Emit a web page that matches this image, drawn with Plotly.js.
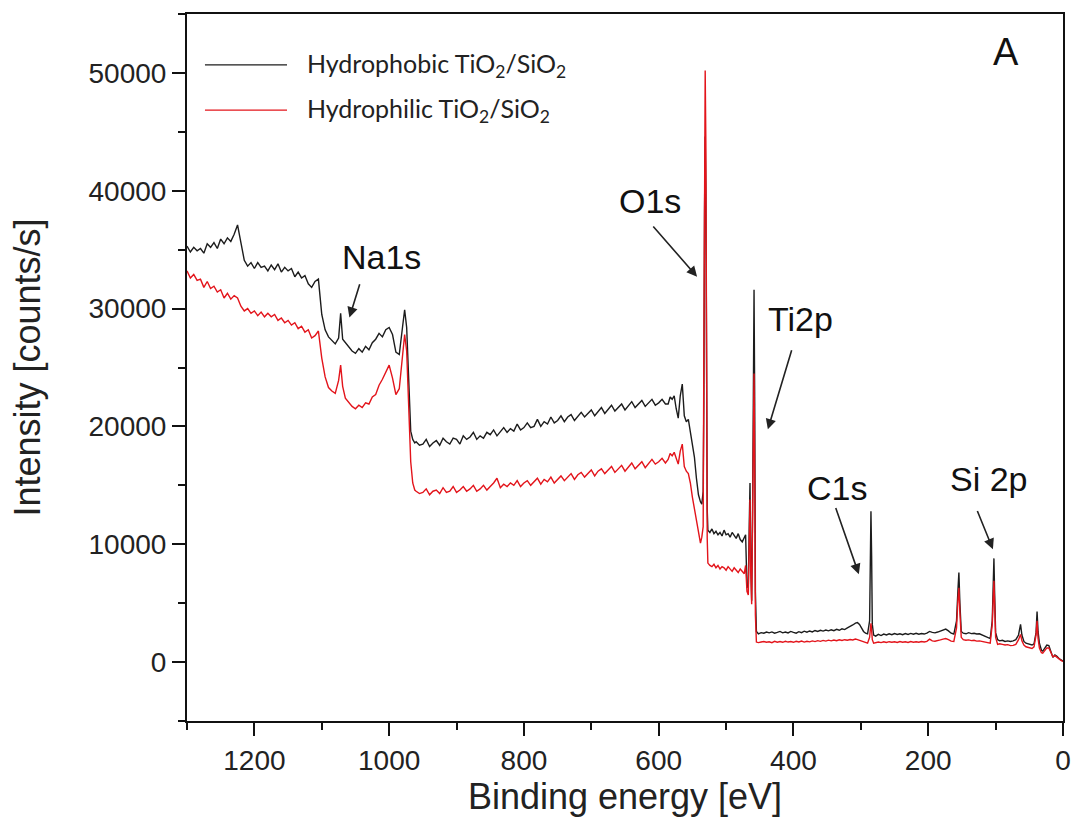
<!DOCTYPE html>
<html>
<head>
<meta charset="utf-8">
<script src="https://cdn.plot.ly/plotly-3.0.1.min.js"></script>
<style>html,body{margin:0;padding:0;background:#fff;}#chart{width:1075px;height:834px;}</style>
</head>
<body>
<div id="chart"></div>
<script>
// ---- Data (binding energy in eV, intensity in counts/s) ----
// Region A: 1300 -> 962 eV (Na1s region)
var energyA = [1300,1295,1290,1285,1280,1275,1270,1265,1260,1255,1250,1245,1240,1235,1230,1225,1220,1215,1210,1205,
  1200,1195,1190,1185,1180,1175,1170,1165,1160,1155,1150,1145,1140,1135,1130,1125,1120,1115,1110,1105,
  1100,1095,1090,1085,1080,1075,1072,1069,1065,1060,1055,1050,1045,1040,1035,1030,1025,1020,1015,1010,
  1005,1000,995,990,985,980,977,974,971,968,965,962];
var hydrophobicA = [35300,34800,35200,34900,35100,34700,35500,35200,35600,35100,35900,35500,36000,35700,36300,37100,35600,34100,33600,33900,
  33400,33900,33500,33600,33200,33700,33300,33800,33100,33500,33200,33400,32700,33100,32600,32800,32100,31800,32300,32500,
  29500,28200,27600,27300,27000,27500,29600,27400,27100,26800,26400,26200,26600,26300,26800,26500,27100,27400,27900,27600,
  28200,28400,27800,26300,26100,28500,29900,28400,23500,19600,18900,18600];
var hydrophilicA = [33200,32600,32900,32400,32500,31800,32300,31700,31900,31400,31600,30900,31300,30800,31100,30900,30200,29800,30000,29600,
  29800,29400,29700,29300,29600,29300,29500,29000,29200,28800,29000,28600,28800,28300,28500,28000,28200,27500,27700,28100,
  25800,24200,23300,23000,22800,23900,25200,23400,22400,22000,21700,21500,21800,21600,22000,21900,22500,22700,23500,24000,
  24600,25200,24100,22700,23200,26500,27800,26400,21000,17000,15200,14600];

// Region B: 960 -> 590 eV (background plateau)
var energyB = [960,955,950,945,940,935,930,925,920,915,910,905,900,895,890,885,880,875,870,865,
  860,855,850,845,840,835,830,825,820,815,810,805,800,795,790,785,780,775,770,765,
  760,755,750,745,740,735,730,725,720,715,710,705,700,695,690,685,680,675,670,665,
  660,655,650,645,640,635,630,625,620,615,610,605,600,595,590];
var hydrophobicB = [18700,18400,18500,18900,18300,18600,18800,18400,19000,18700,18500,19000,18900,18500,19200,18900,19100,19500,18900,19200,
  19000,19500,19300,19700,19200,19600,19900,19500,19800,19600,20200,19700,19900,20300,19900,20000,20600,20000,20400,20200,
  20800,20300,20500,20900,20400,20800,21000,20500,20900,21200,20800,21100,21400,20900,21300,21600,21100,21500,21800,21300,
  21600,21900,21400,21800,22100,21600,21900,22200,21700,22000,22300,21800,22000,22300,21900];
var hydrophilicB = [14500,14300,14400,14700,14200,14500,14600,14300,14800,14400,14500,14900,14400,14600,14900,14500,14700,15000,14500,14700,
  15000,14600,14900,15200,15600,14800,15100,14900,15200,15000,15400,14900,15200,15400,15000,15300,15600,15100,15500,15300,
  15700,15200,15500,15800,15400,15700,16000,15500,15900,16100,15700,16000,16300,15800,16200,16400,16000,16300,16600,16100,
  16400,16700,16200,16600,16900,16400,16700,17000,16500,16900,17200,16800,17000,17300,16900];

// Region C: 586 -> 455 eV (O1s and Ti2p)
var energyC = [586,583,580,577,574,571,568,565,562,559,556,553,550,547,544,541,538,536,534,533,
  532,531,530,529,528,527,524,521,518,515,512,509,506,503,500,497,494,491,488,485,
  482,479,476,473,471,469,467,465.5,464.5,463.5,462,460.5,459.5,458.5,457.5,456.5,455];
var hydrophobicC = [21900,22500,22300,22600,21500,20700,22600,23600,20900,20400,20600,19600,18600,17400,15600,14200,13600,13400,14500,22000,
  38000,44600,40000,24000,13000,11200,11000,11300,10900,11100,10800,11000,10700,11200,10800,10900,10600,11000,10700,10500,
  10900,10400,10200,10600,10800,6300,6500,12000,15200,9000,5200,14000,27000,31600,22000,6000,2600];
var hydrophilicC = [17200,17700,17500,17800,17300,16800,17900,18500,16600,16200,16000,15200,14000,13100,12000,11000,10100,10600,11500,26000,
  45000,50200,44000,24000,10500,8400,8200,8100,8300,8000,8200,7900,8100,8000,7800,8100,7900,7700,8000,7800,
  7600,7900,7700,7500,8200,6000,5700,11000,13800,8000,4900,13000,20500,24500,16000,4000,1700];

// Region D: 452 -> 0 eV (C1s, Si2s, Si2p, shallow levels)
var energyD = [452,448,444,440,436,432,428,424,420,416,412,408,404,400,396,392,388,384,380,376,
  372,368,364,360,356,352,348,344,340,336,332,328,324,320,316,312,308,305,302,299,
  296,293,290,287,286,285,284,283,281,278,274,270,266,262,258,254,250,246,242,238,
  234,230,226,222,218,214,210,206,202,198,194,190,186,182,178,174,170,166,162,158,
  156,154.5,153,151,148,144,140,136,132,128,124,120,116,112,108,105,103.5,102.5,101.5,100,
  97,94,90,86,82,78,74,70,66,63,61,58,55,52,49,46,43,40,38.5,37,
  35,32,30,27,24,21,18,15,12,9,6,3,0];
var hydrophobicD = [2400,2500,2450,2550,2480,2560,2450,2520,2600,2480,2550,2470,2600,2520,2450,2580,2500,2620,2540,2640,
  2560,2680,2600,2700,2630,2720,2650,2740,2660,2780,2700,2820,2760,2900,3000,3150,3300,3350,3200,2900,
  2600,2450,2400,3500,9000,12800,9000,3200,2300,2200,2350,2250,2380,2300,2400,2320,2420,2340,2400,2320,
  2420,2350,2430,2360,2440,2370,2430,2380,2460,2600,2520,2480,2550,2650,2750,2800,2650,2450,2380,3500,
  6000,7600,5000,2600,2450,2400,2500,2420,2450,2380,2400,2300,2250,2150,2000,3500,7000,8800,6000,2500,
  1900,1800,1850,1750,1800,1750,1800,1900,2300,3200,2300,1750,1600,1550,1500,1450,1550,2500,4300,2600,
  1600,1000,930,1200,1440,1400,900,400,600,500,300,150,80];
var hydrophilicD = [1650,1700,1750,1680,1720,1650,1760,1690,1740,1680,1770,1700,1740,1680,1760,1710,1780,1700,1770,1720,
  1800,1740,1820,1760,1840,1780,1860,1800,1870,1810,1890,1830,1900,1850,1920,1880,1960,1900,1850,1780,
  1700,1650,1600,2100,2900,3300,2700,1900,1600,1650,1700,1650,1720,1660,1730,1680,1720,1660,1740,1680,
  1720,1670,1740,1690,1730,1680,1750,1700,1760,1950,1800,1770,1800,1880,1950,2000,1900,1780,1750,2900,
  5200,6300,4200,2100,1900,1850,1880,1820,1850,1780,1800,1750,1700,1650,1600,3200,5800,6900,5000,2100,
  1500,1550,1500,1450,1480,1400,1420,1500,1900,2350,1800,1450,1300,1250,1200,1150,1300,2300,3500,2000,
  1200,800,750,1000,1200,1200,750,450,550,400,250,150,50];

var seriesNames = ['Hydrophobic TiO<sub>2</sub>/SiO<sub>2</sub>', 'Hydrophilic TiO<sub>2</sub>/SiO<sub>2</sub>'];
var seriesColors = ['#1c1c1c', '#e3141b'];

var xTicks = [1200, 1000, 800, 600, 400, 200, 0];
var yTicks = [0, 10000, 20000, 30000, 40000, 50000];
var xTitle = 'Binding energy [eV]';
var yTitle = 'Intensity [counts/s]';

// Peak labels with their arrows (text centre, arrow tail, arrow tip)
var peakLabels = ['Na1s', 'O1s', 'Ti2p', 'C1s', 'Si 2p'];
var labelX = [1012, 613, 390, 335, 110];
var labelY = [34400, 39100, 29100, 14800, 15500];
var arrowTailX = [1043, 610, 402, 338, 128];
var arrowTailY = [32200, 37100, 26600, 13200, 12950];
var arrowTipX = [1059, 543, 438, 303, 104];
var arrowTipY = [29240, 32700, 19750, 7460, 9580];

var energy = energyA.concat(energyB, energyC, energyD);
var hydrophobic = hydrophobicA.concat(hydrophobicB, hydrophobicC, hydrophobicD);
var hydrophilic = hydrophilicA.concat(hydrophilicB, hydrophilicC, hydrophilicD);

var traces = [
  {x: energy, y: hydrophobic, type: 'scatter', mode: 'lines', name: seriesNames[0],
   line: {color: seriesColors[0], width: 1.4}, showlegend: false},
  {x: energy, y: hydrophilic, type: 'scatter', mode: 'lines', name: seriesNames[1],
   line: {color: seriesColors[1], width: 1.4}, showlegend: false}
];

var sansFont = 'Liberation Sans, Arial, sans-serif';
var annotations = [];
for (var i = 0; i < peakLabels.length; i++) {
  annotations.push({xref: 'x', yref: 'y', x: labelX[i], y: labelY[i], text: peakLabels[i],
    showarrow: false, font: {family: sansFont, size: 34, color: '#111'}});
  annotations.push({xref: 'x', yref: 'y', axref: 'x', ayref: 'y', x: arrowTipX[i], y: arrowTipY[i],
    ax: arrowTailX[i], ay: arrowTailY[i], text: '', showarrow: true, arrowhead: 2, arrowsize: 1.3,
    arrowwidth: 1.6, arrowcolor: '#222', standoff: 0, startstandoff: 0});
}
annotations.push({xref: 'paper', yref: 'paper', x: 0.935, y: 0.946, xanchor: 'center', yanchor: 'middle',
  text: 'A', showarrow: false, font: {family: sansFont, size: 38, color: '#111'}});

// custom legend (long line samples as in the reference)
var legendY = [0.928, 0.864];
var shapes = [];
for (var j = 0; j < 2; j++) {
  shapes.push({type: 'line', xref: 'paper', yref: 'paper', x0: 0.0205, x1: 0.1142, y0: legendY[j], y1: legendY[j],
    line: {color: seriesColors[j], width: 1.4}});
  annotations.push({xref: 'paper', yref: 'paper', x: 0.1347, y: legendY[j], xanchor: 'left', yanchor: 'middle',
    text: seriesNames[j], showarrow: false, font: {family: 'Lato, Open Sans, sans-serif', size: 25, color: '#222'}});
}

var layout = {
  width: 1075, height: 834,
  margin: {l: 187, r: 12, t: 14, b: 113},
  paper_bgcolor: '#fff', plot_bgcolor: '#fff',
  showlegend: false,
  xaxis: {
    range: [1300, 0], tickvals: xTicks, ticktext: xTicks.map(String),
    ticks: 'outside', ticklen: 13, tickwidth: 2, tickcolor: '#111',
    minor: {dtick: 100, ticks: 'outside', ticklen: 7, tickwidth: 2, tickcolor: '#111', showgrid: false},
    showline: true, linewidth: 2, linecolor: '#111', mirror: true,
    showgrid: false, zeroline: false,
    tickfont: {family: sansFont, size: 28, color: '#222'},
    title: {text: xTitle, font: {family: sansFont, size: 36, color: '#222'}, standoff: 1}
  },
  yaxis: {
    range: [-5000, 55000], tickvals: yTicks, ticktext: yTicks.map(String),
    ticks: 'outside', ticklen: 13, tickwidth: 2, tickcolor: '#111',
    minor: {dtick: 5000, ticks: 'outside', ticklen: 7, tickwidth: 2, tickcolor: '#111', showgrid: false},
    showline: true, linewidth: 2, linecolor: '#111', mirror: true,
    showgrid: false, zeroline: false,
    tickfont: {family: sansFont, size: 28, color: '#222'},
    title: {text: yTitle, font: {family: sansFont, size: 36, color: '#222'}, standoff: 37}
  },
  annotations: annotations,
  shapes: shapes
};

Plotly.newPlot('chart', traces, layout, {displayModeBar: false, staticPlot: true});
</script>
</body>
</html>
